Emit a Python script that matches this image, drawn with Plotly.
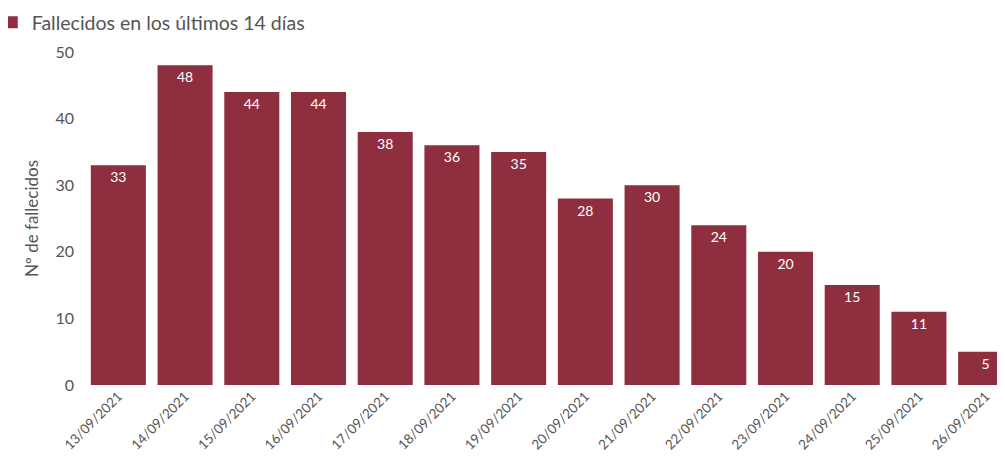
import plotly.graph_objects as go

fechas = ["13/09/2021", "14/09/2021", "15/09/2021", "16/09/2021", "17/09/2021",
          "18/09/2021", "19/09/2021", "20/09/2021", "21/09/2021", "22/09/2021",
          "23/09/2021", "24/09/2021", "25/09/2021", "26/09/2021"]
fallecidos = [33, 48, 44, 44, 38, 36, 35, 28, 30, 24, 20, 15, 11, 5]
serie = "Fallecidos en los últimos 14 días"
y_ticks = [0, 10, 20, 30, 40, 50]

COLOR = "#8f2e3e"
FONT = "Lato"
GREY = "#555555"

fig = go.Figure()
fig.add_trace(go.Bar(
    x=list(range(len(fechas))),
    y=fallecidos,
    name=serie,
    marker=dict(color=COLOR, line=dict(width=0)),
    text=[str(v) for v in fallecidos],
    textposition="inside",
    insidetextanchor="end",
    textfont=dict(color="white", size=14, family=FONT),
    constraintext="none",
    showlegend=True,
))

fig.update_layout(
    width=1005, height=469,
    margin=dict(l=77, r=0, t=44, b=92, autoexpand=False),
    paper_bgcolor="white", plot_bgcolor="white",
    bargap=0.175,
    font=dict(family=FONT, color=GREY, size=14),
    legend=dict(
        xref="paper", yref="paper", x=-0.1005, y=1.147,
        xanchor="left", yanchor="top", orientation="h",
        font=dict(size=19.5, color=GREY), itemwidth=30,
    ),
    xaxis=dict(
        tickmode="array", tickvals=list(range(len(fechas))), ticktext=fechas,
        tickangle=-45, range=[-0.5, 13.41], showgrid=False, zeroline=False,
        showline=False, automargin=False, tickfont=dict(size=13.5, color=GREY),
    ),
    yaxis=dict(
        range=[0, 50], tickvals=y_ticks, showgrid=False, zeroline=False,
        showline=False, ticks="", automargin=False, ticklabelstandoff=10,
        tickfont=dict(size=16, color=GREY),
        title=dict(text="Nº de fallecidos", font=dict(size=17, color=GREY), standoff=12),
    ),
)

fig.write_html("out.html")
